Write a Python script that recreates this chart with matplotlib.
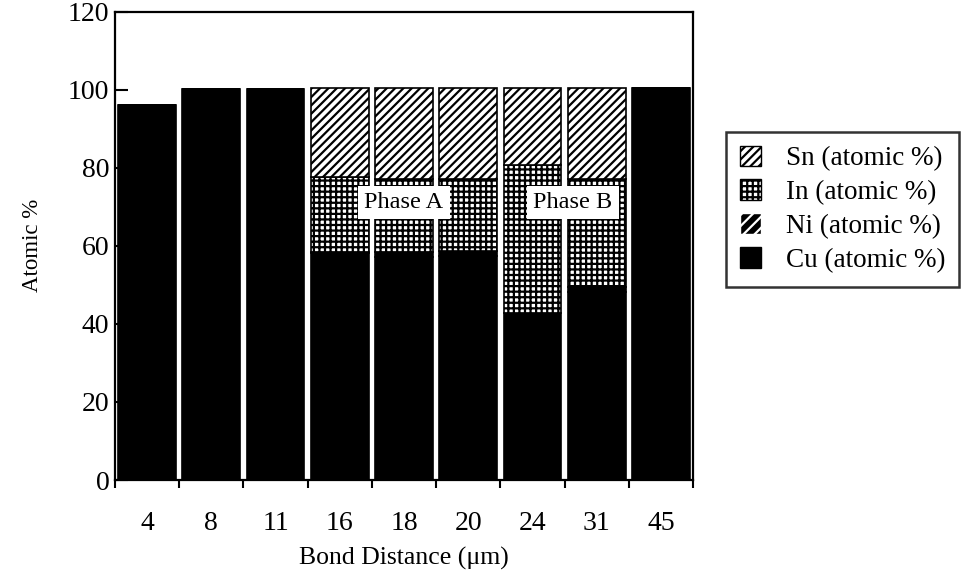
import matplotlib

matplotlib.use("Agg")
import matplotlib.pyplot as plt
import numpy as np
from matplotlib.patches import Patch

plt.rcParams["font.family"] = ["Liberation Serif", "DejaVu Serif"]
plt.rcParams["hatch.linewidth"] = 1.6

# bond distance categories (um) and composition in atomic %
distances = ["4", "8", "11", "16", "18", "20", "24", "31", "45"]
cu = [96.0, 100.2, 100.2, 58.1, 57.0, 57.5, 42.7, 48.2, 100.5]
ni = [0.0, 0.0, 0.0, 0.3, 1.5, 1.1, 0.0, 1.2, 0.0]
indium = [0.0, 0.0, 0.0, 19.2, 18.7, 18.5, 37.9, 27.8, 0.0]
sn = [0.0, 0.0, 0.0, 22.7, 23.1, 23.2, 19.7, 23.1, 0.0]

fig = plt.figure(figsize=(9.61, 5.75), dpi=100)
ax = fig.add_axes([0.1197, 0.1652, 0.6014, 0.8148])

x = np.arange(len(distances))
w = 0.9
b_ni = np.array(cu)
b_in = b_ni + np.array(ni)
b_sn = b_in + np.array(indium)

ax.bar(x, cu, w, color="black", edgecolor="black", linewidth=1.2, zorder=2)
ax.bar(x, ni, w, bottom=b_ni, color="black", edgecolor="black", linewidth=1.2, zorder=2)
ax.bar(x, indium, w, bottom=b_in, color="white", edgecolor="black",
       hatch="+++", linewidth=1.2, zorder=2)
ax.bar(x, sn, w, bottom=b_sn, color="white", edgecolor="black",
       hatch="////", linewidth=1.2, zorder=2)

box = dict(boxstyle="square,pad=0.25", fc="white", ec="none")
ax.text(4.0, 71, "Phase A", ha="center", va="center", fontsize=17.5, bbox=box, zorder=3)
ax.text(6.63, 71, "Phase B", ha="center", va="center", fontsize=17.5, bbox=box, zorder=3)

ax.set_xlim(-0.5, len(distances) - 0.5)
ax.set_ylim(0, 120)
ax.set_yticks(range(0, 121, 20))
ax.set_xticks(x)
ax.set_xticklabels(distances)
ax.set_xticks(np.arange(-0.5, len(distances)), minor=True)
ax.tick_params(axis="x", which="major", length=0, pad=22, labelsize=20)
ax.tick_params(axis="x", which="minor", length=6, width=1.5, direction="out")
ax.tick_params(axis="y", length=9, width=1.5, direction="in", labelsize=20, pad=4)
for s in ax.spines.values():
    s.set_linewidth(1.6)
ax.set_axisbelow(True)

ax.set_xlabel("Bond Distance (\u03bcm)", fontsize=18.5, labelpad=8)
ax.set_ylabel("Atomic %", fontsize=16.5, labelpad=18)

handles = [
    Patch(facecolor="white", edgecolor="black", hatch="////", label="Sn (atomic %)"),
    Patch(facecolor="white", edgecolor="black", hatch="+++", label="In (atomic %)"),
    Patch(facecolor="black", edgecolor="white", hatch="///", label="Ni (atomic %)"),
    Patch(facecolor="black", edgecolor="black", label="Cu (atomic %)"),
]
leg = fig.legend(handles=handles, loc="upper left", bbox_to_anchor=(0.7555, 0.7704),
                 borderaxespad=0, fontsize=19.5, frameon=True, fancybox=False,
                 edgecolor="black", handlelength=0.8, handleheight=0.8,
                 handletextpad=0.9, labelspacing=0.3, borderpad=0.5)
leg.get_frame().set_linewidth(1.8)

fig.savefig("out.png", dpi=100)
